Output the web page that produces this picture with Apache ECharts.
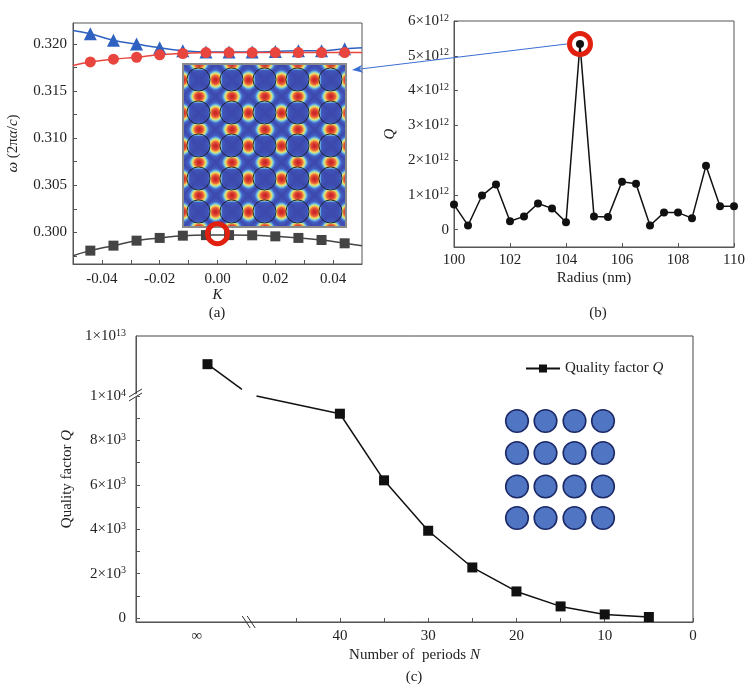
<!DOCTYPE html>
<html>
<head>
<meta charset="utf-8">
<script src="https://cdn.jsdelivr.net/npm/echarts@6/dist/echarts.min.js"></script>
<style>
  html, body { margin: 0; padding: 0; background: #fff; }
  #main { width: 754px; height: 685px; }
</style>
</head>
<body>
<div id="main"></div>
<script>
// ---- (a) band diagram ----
var kValues = [-0.044, -0.036, -0.028, -0.020, -0.012, -0.004, 0.004, 0.012, 0.020, 0.028, 0.036, 0.044];
var bandUpper = [0.3211, 0.3204, 0.3200, 0.3196, 0.3193, 0.31915, 0.31915, 0.31915, 0.3192, 0.3193, 0.3193, 0.3195];
var bandMiddle = [0.3181, 0.3184, 0.3186, 0.31886, 0.3190, 0.3191, 0.3191, 0.3191, 0.3191, 0.3191, 0.3191, 0.3191];
var bandLower = [0.29805, 0.29858, 0.29911, 0.2994, 0.29964, 0.2997, 0.2997, 0.29968, 0.29957, 0.2994, 0.29918, 0.29883];
// fitted curves run on to the frame edges
var kEdges = [-0.05, 0.05];
var upperEdges = [0.32145, 0.3196];
var middleEdges = [0.31772, 0.3191];
var lowerEdges = [0.29751, 0.29858];
var markedMode = [0.0, 0.29985];
var kTickValues = [-0.04, -0.03, -0.02, -0.01, 0, 0.01, 0.02, 0.03, 0.04];
var kLabelValues = [-0.04, -0.02, 0, 0.02, 0.04];
var omegaTickValues = [0.2975, 0.300, 0.3025, 0.305, 0.3075, 0.310, 0.3125, 0.315, 0.3175, 0.320, 0.3225];
var omegaLabelValues = [0.300, 0.305, 0.310, 0.315, 0.320];

// ---- (b) Q vs radius (Q in units of 10^12) ----
var radius = [100, 100.5, 101, 101.5, 102, 102.5, 103, 103.5, 104, 104.5, 105,
              105.5, 106, 106.5, 107, 107.5, 108, 108.5, 109, 109.5, 110];
var qRadius = [0.72, 0.12, 0.98, 1.30, 0.24, 0.38, 0.75, 0.61, 0.21, 5.34, 0.38,
               0.36, 1.38, 1.32, 0.12, 0.49, 0.49, 0.33, 1.84, 0.67, 0.67];
var peakRadius = 104.5;
var qRadiusLabels = [0, 1, 2, 3, 4, 5, 6];

// ---- (c) Q vs number of periods ----
var periods = [40, 35, 30, 25, 20, 15, 10, 5];
var qPeriods = [9200, 6200, 3930, 2276, 1197, 522, 162, 45];
var qInfinite = 5.3e12;
var infinityPos = 55;          // where "infinite" sits on the broken N axis
var infinityLabelPos = 56.2;
var periodTickValues = [0, 5, 10, 15, 20, 25, 30, 35, 40, 45];
var periodLabelValues = [0, 10, 20, 30, 40];
var qLabelValues = [0, 2000, 4000, 6000, 8000, 10000, 1e13];
var qTickValues = [0, 1000, 2000, 3000, 4000, 5000, 6000, 7000, 8000, 9000, 10000];
var breakN = [51.1, 49.45];    // ends of the line on either side of the N break
var breakQ = [1.1e12, 1.0e4];

var FONT = 'Liberation Serif';

// y axis of (c) is broken at 1e4: above it 1e4..1e13 is squeezed
function qToAxis(q) {
  return q <= 1e4 ? q : 1e4 + (q - 1e4) / (1e13 - 1e4) * 2700;
}

var rich = {
  m: { fontFamily: FONT, fontSize: 15, color: '#222' },
  s: { fontFamily: FONT, fontSize: 10, color: '#222', verticalAlign: 'bottom', padding: [0, 0, 6, 0] },
  i: { fontFamily: FONT, fontSize: 15, color: '#222', fontStyle: 'italic' }
};

function pairs(xs, ys) {
  return xs.map(function (x, i) { return [x, ys[i]]; });
}
function withEdges(xs, ys, edgeY) {
  var d = [{ value: [kEdges[0], edgeY[0]], symbol: 'none' }];
  xs.forEach(function (x, i) { d.push([x, ys[i]]); });
  d.push({ value: [kEdges[1], edgeY[1]], symbol: 'none' });
  return d;
}

var axisCommon = {
  axisLine: { show: true, onZero: false, lineStyle: { color: '#555', width: 1 } },
  axisTick: { show: true, inside: true, length: 4, lineStyle: { color: '#555' } },
  splitLine: { show: false },
  axisLabel: { fontFamily: FONT, fontSize: 15, color: '#222' },
  nameTextStyle: { fontFamily: FONT, fontSize: 15, color: '#222', rich: rich }
};
function ax(o) { return echarts.util.merge(echarts.util.clone(axisCommon), o, true); }

// field map for the inset in (a)
function fieldCanvas(size) {
  var cv = document.createElement('canvas');
  cv.width = size; cv.height = size;
  var ctx = cv.getContext('2d');
  var img = ctx.createImageData(size, size);
  var a = size / 5, r = 0.35 * a;
  var stops = [[0, [60, 72, 172]], [0.35, [68, 96, 196]], [0.52, [105, 185, 228]],
               [0.63, [190, 228, 150]], [0.72, [245, 212, 88]], [0.84, [235, 110, 60]], [1, [205, 35, 40]]];
  function cmap(v) {
    for (var s = 1; s < stops.length; s++) {
      if (v <= stops[s][0]) {
        var t = (v - stops[s - 1][0]) / (stops[s][0] - stops[s - 1][0]);
        var c0 = stops[s - 1][1], c1 = stops[s][1];
        return [c0[0] + t * (c1[0] - c0[0]), c0[1] + t * (c1[1] - c0[1]), c0[2] + t * (c1[2] - c0[2])];
      }
    }
    return stops[stops.length - 1][1];
  }
  for (var y = 0; y < size; y++) {
    for (var x = 0; x < size; x++) {
      var X = 2 * Math.PI * x / a, Y = 2 * Math.PI * y / a;
      var f = Math.pow((Math.cos(X) - Math.cos(Y)) / 2, 2);
      var cx = (Math.floor(x / a) + 0.5) * a, cy = (Math.floor(y / a) + 0.5) * a;
      var d = Math.sqrt((x - cx) * (x - cx) + (y - cy) * (y - cy));
      var t = Math.min(1, Math.max(0, (d - 0.75 * r) / (0.4 * r)));
      var m = 0.08 + 0.92 * t * t * (3 - 2 * t);
      var c = cmap(Math.min(1, Math.pow(f * m, 0.45)));
      var p = (y * size + x) * 4;
      img.data[p] = c[0]; img.data[p + 1] = c[1]; img.data[p + 2] = c[2]; img.data[p + 3] = 255;
    }
  }
  ctx.putImageData(img, 0, 0);
  ctx.strokeStyle = '#1a1a1a'; ctx.lineWidth = 0.9;
  for (var i = 0; i < 5; i++) {
    for (var j = 0; j < 5; j++) {
      ctx.beginPath();
      ctx.arc((i + 0.5) * a, (j + 0.5) * a, r, 0, 2 * Math.PI);
      ctx.stroke();
    }
  }
  ctx.strokeStyle = '#8a8a8a'; ctx.lineWidth = 2;
  ctx.strokeRect(1, 1, size - 2, size - 2);
  return cv;
}

var chart = echarts.init(document.getElementById('main'), null, { renderer: 'canvas' });

var ringStyle = { color: 'rgba(0,0,0,0)', borderColor: '#e2200f', borderWidth: 5, opacity: 1 };

var option = {
  animation: false,
  backgroundColor: '#fff',
  grid: [
    { left: 73, top: 23, width: 289, height: 241, show: true, borderColor: '#555', borderWidth: 1 },
    { left: 454, top: 21, width: 280, height: 226, show: true, borderColor: '#555', borderWidth: 1 },
    { left: 136, top: 336, width: 557, height: 286, show: true, borderColor: '#444', borderWidth: 1 }
  ],
  xAxis: [
    ax({
      gridIndex: 0, type: 'value', min: -0.05, max: 0.05,
      name: 'K', nameLocation: 'middle', nameGap: 22,
      nameTextStyle: { fontStyle: 'italic' },
      axisTick: { customValues: kTickValues },
      axisLabel: { customValues: kLabelValues, margin: 8,
        formatter: function (v) { return v.toFixed(2); } }
    }),
    ax({
      gridIndex: 1, type: 'value', min: 100, max: 110, interval: 2,
      name: 'Radius (nm)', nameLocation: 'middle', nameGap: 24,
      axisLabel: { margin: 6 }
    }),
    ax({
      gridIndex: 2, type: 'value', min: 0, max: 63.1, inverse: true,
      name: 'Number of  periods {i|N}', nameLocation: 'middle', nameGap: 26,
      axisTick: { customValues: periodTickValues },
      axisLabel: { customValues: periodLabelValues.concat([infinityLabelPos]), margin: 7,
        formatter: function (v) { return v > 50 ? '\u221e' : String(v); } }
    })
  ],
  yAxis: [
    ax({
      gridIndex: 0, type: 'value', min: 0.29663, max: 0.32224,
      name: '{i|\u03c9} (2\u03c0{i|\u03b1}/{i|c})', nameLocation: 'middle', nameGap: 52,
      axisTick: { customValues: omegaTickValues },
      axisLabel: { customValues: omegaLabelValues, margin: 6,
        formatter: function (v) { return v.toFixed(3); } }
    }),
    ax({
      gridIndex: 1, type: 'value', min: -0.5, max: 6,
      name: 'Q', nameLocation: 'middle', nameGap: 56,
      nameTextStyle: { fontStyle: 'italic' },
      axisTick: { customValues: qRadiusLabels },
      axisLabel: { customValues: qRadiusLabels, margin: 5, rich: rich,
        formatter: function (v) { return v === 0 ? '{m|0}' : '{m|' + v + '\u00d710}{s|12}'; } }
    }),
    ax({
      gridIndex: 2, type: 'value', min: -180, max: qToAxis(1e13),
      name: 'Quality factor {i|Q}', nameLocation: 'middle', nameGap: 58,
      axisTick: { customValues: qTickValues },
      axisLabel: { customValues: qLabelValues.map(qToAxis), margin: 10, rich: rich,
        formatter: function (v) {
          if (v === 0) return '{m|0}';
          if (v > 10000) return '{m|1\u00d710}{s|13}';
          if (v === 10000) return '{m|1\u00d710}{s|4}';
          return '{m|' + (v / 1000) + '\u00d710}{s|3}';
        } }
    })
  ],
  legend: {
    data: ['Quality factor Q'],
    left: 520, top: 356, itemWidth: 34, itemHeight: 10,
    textStyle: { fontFamily: FONT, fontSize: 15, color: '#222', rich: rich },
    formatter: function () { return 'Quality factor {i|Q}'; }
  },
  series: [
    { type: 'line', xAxisIndex: 0, yAxisIndex: 0, smooth: true, z: 3,
      data: withEdges(kValues, bandUpper, upperEdges),
      symbol: 'triangle', symbolSize: 13, color: '#2f62c0',
      lineStyle: { width: 1.5, color: '#2f62c0' } },
    { type: 'line', xAxisIndex: 0, yAxisIndex: 0, smooth: true, z: 3,
      data: withEdges(kValues, bandMiddle, middleEdges),
      symbol: 'circle', symbolSize: 11, color: '#e8453e',
      lineStyle: { width: 1.5, color: '#e8453e' } },
    { type: 'line', xAxisIndex: 0, yAxisIndex: 0, smooth: true, z: 3,
      data: withEdges(kValues, bandLower, lowerEdges),
      symbol: 'rect', symbolSize: 10, color: '#444',
      lineStyle: { width: 1.5, color: '#444' } },
    { type: 'scatter', xAxisIndex: 0, yAxisIndex: 0, z: 6,
      data: [markedMode], symbol: 'circle', symbolSize: 20, itemStyle: ringStyle },

    { type: 'line', xAxisIndex: 1, yAxisIndex: 1, data: pairs(radius, qRadius),
      symbol: 'circle', symbolSize: 8, color: '#111',
      lineStyle: { width: 1.5, color: '#111' } },
    { type: 'scatter', xAxisIndex: 1, yAxisIndex: 1, z: 6,
      data: [[peakRadius, qRadius[radius.indexOf(peakRadius)]]], symbol: 'circle', symbolSize: 21,
      itemStyle: ringStyle },

    { name: 'Quality factor Q', type: 'line', xAxisIndex: 2, yAxisIndex: 2,
      data: pairs(periods, qPeriods.map(qToAxis)),
      symbol: 'rect', symbolSize: 10, color: '#111',
      lineStyle: { width: 1.5, color: '#111' } },
    { type: 'line', xAxisIndex: 2, yAxisIndex: 2, symbol: 'none',
      data: [[infinityPos, qToAxis(qInfinite)], [breakN[0], qToAxis(breakQ[0])]],
      lineStyle: { width: 1.5, color: '#111' } },
    { type: 'line', xAxisIndex: 2, yAxisIndex: 2, symbol: 'none',
      data: [[breakN[1], qToAxis(breakQ[1])], [periods[0], qPeriods[0]]],
      lineStyle: { width: 1.5, color: '#111' } },
    { type: 'scatter', xAxisIndex: 2, yAxisIndex: 2, z: 4,
      data: [[infinityPos, qToAxis(qInfinite)]], symbol: 'rect', symbolSize: 10,
      itemStyle: { color: '#111', opacity: 1 } }
  ]
};

chart.setOption(option);

// decorations: inset field map, arrow, lattice sketch, axis breaks, panel tags
var graphics = [];
var insetSize = 165, insetX = 182, insetY = 63;
graphics.push({ type: 'image', z: 1, style: { image: fieldCanvas(insetSize), x: insetX, y: insetY, width: insetSize, height: insetSize } });

var peak = chart.convertToPixel({ gridIndex: 1 }, [peakRadius, qRadius[radius.indexOf(peakRadius)]]);
var sx = peak[0] - 13, sy = peak[1], ex = insetX + insetSize + 5, ey = insetY + 7;
var ang = Math.atan2(ey - sy, ex - sx);
var hl = 11, hw = 4;
graphics.push({ type: 'line', z: 10, shape: { x1: sx, y1: sy, x2: ex - Math.cos(ang) * hl * 0.7, y2: ey - Math.sin(ang) * hl * 0.7 },
  style: { stroke: '#3b6fd4', lineWidth: 1 } });
graphics.push({ type: 'polygon', z: 10, shape: { points: [
  [ex, ey],
  [ex - Math.cos(ang) * hl - Math.sin(ang) * hw, ey - Math.sin(ang) * hl + Math.cos(ang) * hw],
  [ex - Math.cos(ang) * hl * 0.7, ey - Math.sin(ang) * hl * 0.7],
  [ex - Math.cos(ang) * hl + Math.sin(ang) * hw, ey - Math.sin(ang) * hl - Math.cos(ang) * hw]
] }, style: { fill: '#3b6fd4' } });

var rodX = [517, 545.5, 574.5, 603], rodY = [421, 453, 486.5, 518];
rodX.forEach(function (x) {
  rodY.forEach(function (y) {
    graphics.push({ type: 'circle', shape: { cx: x, cy: y, r: 11.3 },
      style: { fill: '#5075c2', stroke: '#1c2a68', lineWidth: 1.6 } });
  });
});

var yb = chart.convertToPixel({ gridIndex: 2 }, [0, 10000]);
var yAxisX = chart.convertToPixel({ gridIndex: 2 }, [63.1, 0])[0];
graphics.push({ type: 'polygon', z: 10, shape: { points: [[yAxisX - 6, yb[1] + 2], [yAxisX + 5, yb[1] - 5], [yAxisX + 5, yb[1] - 2], [yAxisX - 6, yb[1] + 5]] }, style: { fill: '#fff' } });
graphics.push({ type: 'line', z: 11, shape: { x1: yAxisX - 7, y1: yb[1] + 1, x2: yAxisX + 6, y2: yb[1] - 7 }, style: { stroke: '#333', lineWidth: 1 } });
graphics.push({ type: 'line', z: 11, shape: { x1: yAxisX - 7, y1: yb[1] + 5, x2: yAxisX + 6, y2: yb[1] - 3 }, style: { stroke: '#333', lineWidth: 1 } });

var xb = chart.convertToPixel({ gridIndex: 2 }, [(breakN[0] + breakN[1]) / 2, -180]);
graphics.push({ type: 'line', z: 11, shape: { x1: xb[0] - 7, y1: xb[1] - 6, x2: xb[0] + 1, y2: xb[1] + 6 }, style: { stroke: '#333', lineWidth: 1 } });
graphics.push({ type: 'line', z: 11, shape: { x1: xb[0] - 2, y1: xb[1] - 6, x2: xb[0] + 6, y2: xb[1] + 6 }, style: { stroke: '#333', lineWidth: 1 } });

[['(a)', 217, 313], ['(b)', 598, 313], ['(c)', 414, 677]].forEach(function (t) {
  graphics.push({ type: 'text', style: { text: t[0], x: t[1], y: t[2], align: 'center', verticalAlign: 'middle',
    font: '15px "' + FONT + '"', fill: '#222' } });
});

chart.setOption({ graphic: graphics });
</script>
</body>
</html>
